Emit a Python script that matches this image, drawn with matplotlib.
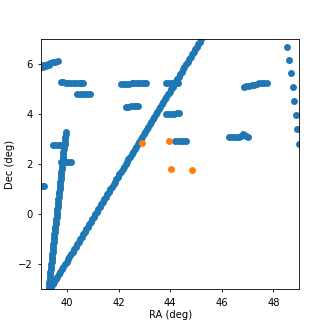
import matplotlib
matplotlib.use("Agg")
import matplotlib.pyplot as plt
import numpy as np

# Blue detections (RA, Dec) in degrees
# long diagonal track
track_ra = [39.33, 39.39, 39.45, 39.51, 39.56, 39.62, 39.68, 39.74, 39.80, 39.86,
            39.92, 39.98, 40.03, 40.09, 40.15, 40.21, 40.27, 40.33, 40.39, 40.45,
            40.50, 40.56, 40.62, 40.68, 40.74, 40.80, 40.86, 40.92, 40.97, 41.03,
            41.09, 41.15, 41.21, 41.27, 41.33, 41.38, 41.44, 41.50, 41.56, 41.62,
            41.68, 41.74, 41.80, 41.85, 41.91, 41.97, 42.03, 42.09, 42.15, 42.21,
            42.27, 42.32, 42.38, 42.44, 42.50, 42.56, 42.62, 42.68, 42.74, 42.79,
            42.85, 42.91, 42.97, 43.03, 43.09, 43.15, 43.20, 43.26, 43.32, 43.38,
            43.44, 43.50, 43.56, 43.62, 43.67, 43.73, 43.79, 43.85, 43.91, 43.97,
            44.03, 44.09, 44.14, 44.20, 44.26, 44.32, 44.38, 44.44, 44.50, 44.55,
            44.61, 44.67, 44.73, 44.79, 44.85, 44.91, 44.97, 45.02, 45.08, 45.14, 45.20]
track_dec = [-3.0, -2.9, -2.8, -2.7, -2.6, -2.5, -2.4, -2.3, -2.2, -2.1,
             -2.0, -1.9, -1.8, -1.7, -1.6, -1.5, -1.4, -1.3, -1.2, -1.1,
             -1.0, -0.9, -0.8, -0.7, -0.6, -0.5, -0.4, -0.3, -0.2, -0.1,
             0.0, 0.1, 0.2, 0.3, 0.4, 0.5, 0.6, 0.7, 0.8, 0.9,
             1.0, 1.1, 1.2, 1.3, 1.4, 1.5, 1.6, 1.7, 1.8, 1.9,
             2.0, 2.1, 2.2, 2.3, 2.4, 2.5, 2.6, 2.7, 2.8, 2.9,
             3.0, 3.1, 3.2, 3.3, 3.4, 3.5, 3.6, 3.7, 3.8, 3.9,
             4.0, 4.1, 4.2, 4.3, 4.4, 4.5, 4.6, 4.7, 4.8, 4.9,
             5.0, 5.1, 5.2, 5.3, 5.4, 5.5, 5.6, 5.7, 5.8, 5.9,
             6.0, 6.1, 6.2, 6.3, 6.4, 6.5, 6.6, 6.7, 6.8, 6.9, 7.0]

# steep track on the left
steep_ra = [39.28, 39.29, 39.30, 39.31, 39.32, 39.33, 39.34, 39.35, 39.37, 39.38,
            39.39, 39.40, 39.41, 39.42, 39.43, 39.44, 39.45, 39.46, 39.47, 39.48,
            39.49, 39.50, 39.51, 39.52, 39.54, 39.55, 39.56, 39.57, 39.58, 39.59,
            39.60, 39.61, 39.62, 39.63, 39.64, 39.65, 39.66, 39.67, 39.68, 39.69,
            39.71, 39.72, 39.73, 39.74, 39.75, 39.76, 39.77, 39.78, 39.79, 39.80,
            39.81, 39.82, 39.83, 39.84, 39.85, 39.86, 39.88, 39.89, 39.90, 39.91,
            39.92, 39.93, 39.94, 39.95]
steep_dec = [-3.0, -2.9, -2.8, -2.7, -2.6, -2.5, -2.4, -2.3, -2.2, -2.1,
             -2.0, -1.9, -1.8, -1.7, -1.6, -1.5, -1.4, -1.3, -1.2, -1.1,
             -1.0, -0.9, -0.8, -0.7, -0.6, -0.5, -0.4, -0.3, -0.2, -0.1,
             0.0, 0.1, 0.2, 0.3, 0.4, 0.5, 0.6, 0.7, 0.8, 0.9,
             1.0, 1.1, 1.2, 1.3, 1.4, 1.5, 1.6, 1.7, 1.8, 1.9,
             2.0, 2.1, 2.2, 2.3, 2.4, 2.5, 2.6, 2.7, 2.8, 2.9,
             3.0, 3.1, 3.2, 3.3]

# short streaks and the column of separate dots on the right
streak_ra = [38.95, 39.05, 39.15, 39.25, 39.35, 39.45, 39.55, 39.63,
             38.98, 39.08, 39.18, 39.28,
             38.98, 39.05, 39.12,
             39.75, 39.85, 39.95, 40.05, 40.15, 40.25, 40.35, 40.45, 40.55, 40.62,
             40.40, 40.50, 40.60, 40.70, 40.80, 40.88,
             42.10, 42.20, 42.30, 42.40, 42.50, 42.60, 42.70, 42.80, 42.90, 43.00, 43.06,
             42.28, 42.38, 42.48, 42.58, 42.68, 42.74,
             43.85, 43.95, 44.05, 44.15, 44.25, 44.30,
             43.85, 43.95, 44.05, 44.15, 44.25, 44.32,
             44.20, 44.30, 44.40, 44.50, 44.60,
             46.27, 46.37, 46.47, 46.57, 46.67, 46.74, 46.80, 46.86, 46.95, 47.03,
             46.85, 46.95, 47.05, 47.15, 47.25, 47.35, 47.45, 47.55, 47.65, 47.75,
             39.47, 39.55, 39.63, 39.72,
             39.75, 39.85, 39.95, 40.05, 40.15,
             48.53, 48.59, 48.69, 48.75, 48.81, 48.88, 48.93, 48.98]
streak_dec = [5.95, 5.97, 5.99, 6.02, 6.05, 6.08, 6.10, 6.12,
              5.89, 5.91, 5.94, 5.97,
              1.12, 1.12, 1.12,
              5.28, 5.28, 5.27, 5.27, 5.26, 5.25, 5.24, 5.24, 5.24, 5.24,
              4.82, 4.82, 4.82, 4.82, 4.82, 4.82,
              5.20, 5.21, 5.22, 5.23, 5.24, 5.25, 5.26, 5.26, 5.27, 5.27, 5.27,
              4.30, 4.31, 4.32, 4.33, 4.34, 4.35,
              5.27, 5.27, 5.27, 5.27, 5.27, 5.27,
              4.00, 4.01, 4.02, 4.03, 4.05, 4.06,
              2.94, 2.94, 2.94, 2.94, 2.94,
              3.10, 3.10, 3.10, 3.10, 3.11, 3.14, 3.20, 3.18, 3.12, 3.08,
              5.10, 5.12, 5.14, 5.16, 5.19, 5.22, 5.25, 5.26, 5.26, 5.26,
              2.78, 2.78, 2.78, 2.78,
              2.10, 2.10, 2.10, 2.10, 2.10,
              6.70, 6.17, 5.64, 5.08, 4.53, 3.97, 3.40, 2.81]

# orange detections
orange_ra = [42.91, 43.96, 44.03, 44.86]
orange_dec = [2.85, 2.93, 1.82, 1.77]

blue_ra = np.concatenate([track_ra, steep_ra, streak_ra])
blue_dec = np.concatenate([track_dec, steep_dec, streak_dec])

fs = 7.2
plt.rcParams['font.size'] = fs
plt.rcParams['axes.linewidth'] = 0.6
plt.rcParams['xtick.major.size'] = 2.5
plt.rcParams['ytick.major.size'] = 2.5
plt.rcParams['xtick.major.width'] = 0.6
plt.rcParams['ytick.major.width'] = 0.6

fig = plt.figure(figsize=(3.32, 3.32), dpi=100)
ax = fig.add_axes([0.1244, 0.1286, 0.777, 0.753])

ax.scatter(blue_ra, blue_dec, s=25, color='#1f77b4', linewidths=0)
ax.scatter(orange_ra, orange_dec, s=25, color='#ff7f0e', linewidths=0)

ax.set_xlim(39, 49)
ax.set_ylim(-3, 7)
ax.set_xticks([40, 42, 44, 46, 48])
ax.set_yticks([-2, 0, 2, 4, 6])
ax.set_xlabel('RA (deg)', labelpad=2)
ax.set_ylabel('Dec (deg)', labelpad=2)

fig.savefig('out.png', dpi=100)
